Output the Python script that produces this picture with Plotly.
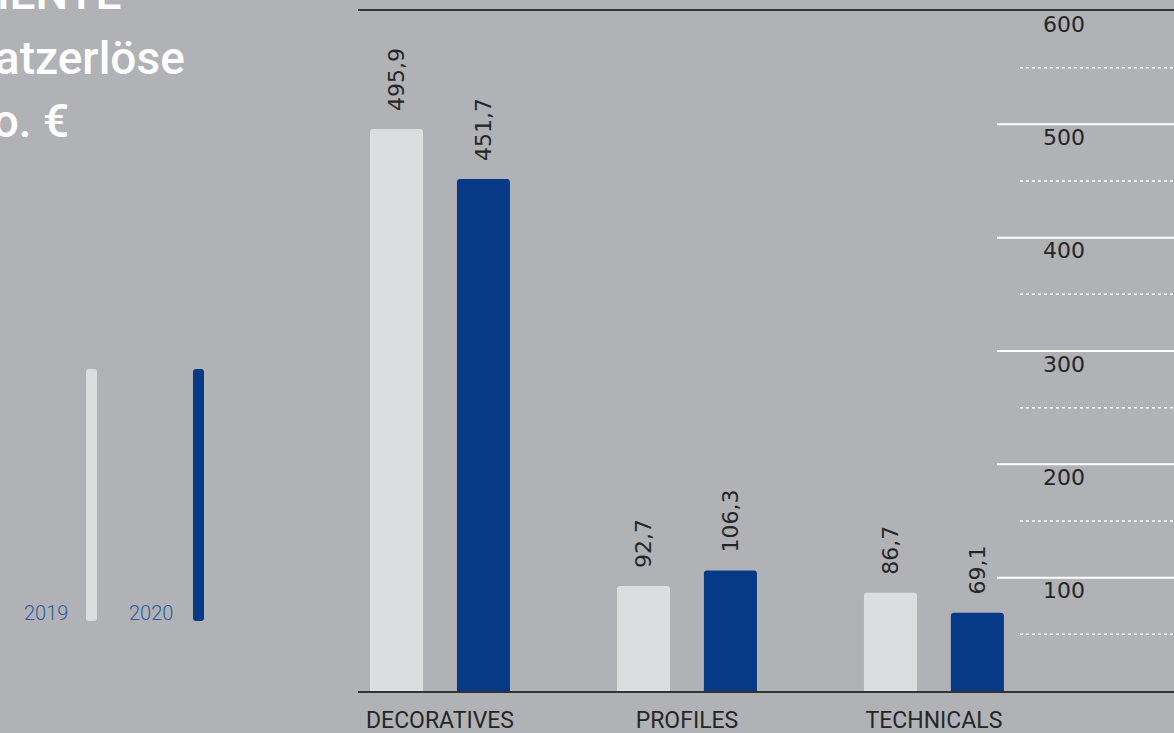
import plotly.graph_objects as go

categories = ["DECORATIVES", "PROFILES", "TECHNICALS"]
years = ["2019", "2020"]
values_2019 = [495.9, 92.7, 86.7]
values_2020 = [451.7, 106.3, 69.1]
labels_2019 = ["495,9", "92,7", "86,7"]
labels_2020 = ["451,7", "106,3", "69,1"]
major_ticks = [100, 200, 300, 400, 500, 600]
minor_ticks = [50, 150, 250, 350, 450, 550]
title_lines = ["SEGMENTE", "Umsatzerlöse", "in Mio. €"]

BG = "#b1b2b6"
LIGHT = "#dcdddf"
BLUE = "#063a87"
DARK = "#262626"

W, H = 1174, 733
ML, MR, MT, MB = 358, 0, 11, 42
PW, PH = W - ML - MR, H - MT - MB

def px(x):
    return (x - ML) / PW

def py(y):
    return (H - MB - y) / PH

fig = go.Figure()
fig.add_trace(go.Bar(x=categories, y=values_2019, name=years[0],
                     marker=dict(color=LIGHT, line=dict(width=0), cornerradius=3),
                     hoverinfo="skip"))
fig.add_trace(go.Bar(x=categories, y=values_2020, name=years[1],
                     marker=dict(color=BLUE, line=dict(width=0), cornerradius=3),
                     hoverinfo="skip"))

annotations = []
offset = 0.176
for i, cat in enumerate(categories):
    for vals, labs, sgn in ((values_2019, labels_2019, -1), (values_2020, labels_2020, 1)):
        annotations.append(dict(
            x=i + sgn * offset, y=vals[i], xref="x", yref="y",
            text=labs[i], textangle=-90, showarrow=False,
            xanchor="center", yanchor="bottom", yshift=16,
            font=dict(family="DejaVu Sans, sans-serif", size=22, color=DARK)))

shapes = []
for t in major_ticks[:-1]:
    shapes.append(dict(type="line", xref="paper", yref="y",
                       x0=px(997), x1=1, y0=t, y1=t,
                       line=dict(color="white", width=2), layer="above"))
for t in minor_ticks:
    shapes.append(dict(type="line", xref="paper", yref="y",
                       x0=px(1020), x1=1, y0=t, y1=t,
                       line=dict(color="white", width=1.5, dash="dot"), layer="above"))
for t in major_ticks:
    annotations.append(dict(x=px(1041), y=t, xref="paper", yref="y",
                            text=str(t), showarrow=False, xanchor="left",
                            yanchor="middle", yshift=-13,
                            font=dict(family="DejaVu Sans, sans-serif", size=22, color=DARK)))

def rounded_rect(x0, x1, y0, y1, r):
    return (f"M {px(x0 + r)},{py(y0)} L {px(x1 - r)},{py(y0)} "
            f"Q {px(x1)},{py(y0)} {px(x1)},{py(y0 + r)} "
            f"L {px(x1)},{py(y1 - r)} Q {px(x1)},{py(y1)} {px(x1 - r)},{py(y1)} "
            f"L {px(x0 + r)},{py(y1)} Q {px(x0)},{py(y1)} {px(x0)},{py(y1 - r)} "
            f"L {px(x0)},{py(y0 + r)} Q {px(x0)},{py(y0)} {px(x0 + r)},{py(y0)} Z")

# legend
legend_items = [(years[0], LIGHT, 86, 97, 22), (years[1], BLUE, 193, 204, 127)]
for name, col, x0, x1, tx in legend_items:
    shapes.append(dict(type="path", xref="paper", yref="paper",
                       path=rounded_rect(x0, x1, 369, 621, 3),
                       fillcolor=col, line=dict(width=0), layer="above"))
    annotations.append(dict(x=px(tx), y=py(613), xref="paper", yref="paper",
                            text=name, showarrow=False, xanchor="left", yanchor="middle",
                            font=dict(family="Roboto, sans-serif", size=20, color="#2f5a9c",
                                      weight=300)))

# title (partially cut at left edge, as in the reference)
title_pos = [(123, -7), (187, 58), (71, 121)]
for line, (xr, yc) in zip(title_lines, title_pos):
    annotations.append(dict(x=px(xr), y=py(yc), xref="paper", yref="paper",
                            text=line, showarrow=False, xanchor="right", yanchor="middle",
                            font=dict(family="Roboto, sans-serif", size=46, color="white",
                                      weight=500)))

fig.update_layout(
    width=W, height=H,
    margin=dict(l=ML, r=MR, t=MT, b=MB),
    paper_bgcolor=BG, plot_bgcolor=BG,
    barmode="group", bargap=0.296, bargroupgap=0.39,
    showlegend=False,
    xaxis=dict(range=[-0.332, 2.972], showgrid=False, zeroline=False,
               showline=True, mirror=True, linecolor="#333333", linewidth=1.5,
               ticks="", ticklabelstandoff=8,
               tickfont=dict(family="Roboto, sans-serif", size=23, color=DARK)),
    yaxis=dict(range=[0, 600], showgrid=False, zeroline=False, showline=False,
               showticklabels=False),
    annotations=annotations, shapes=shapes,
)

fig.write_html("out.html", config={"displayModeBar": False},
               post_script="document.body.style.margin='0';")
